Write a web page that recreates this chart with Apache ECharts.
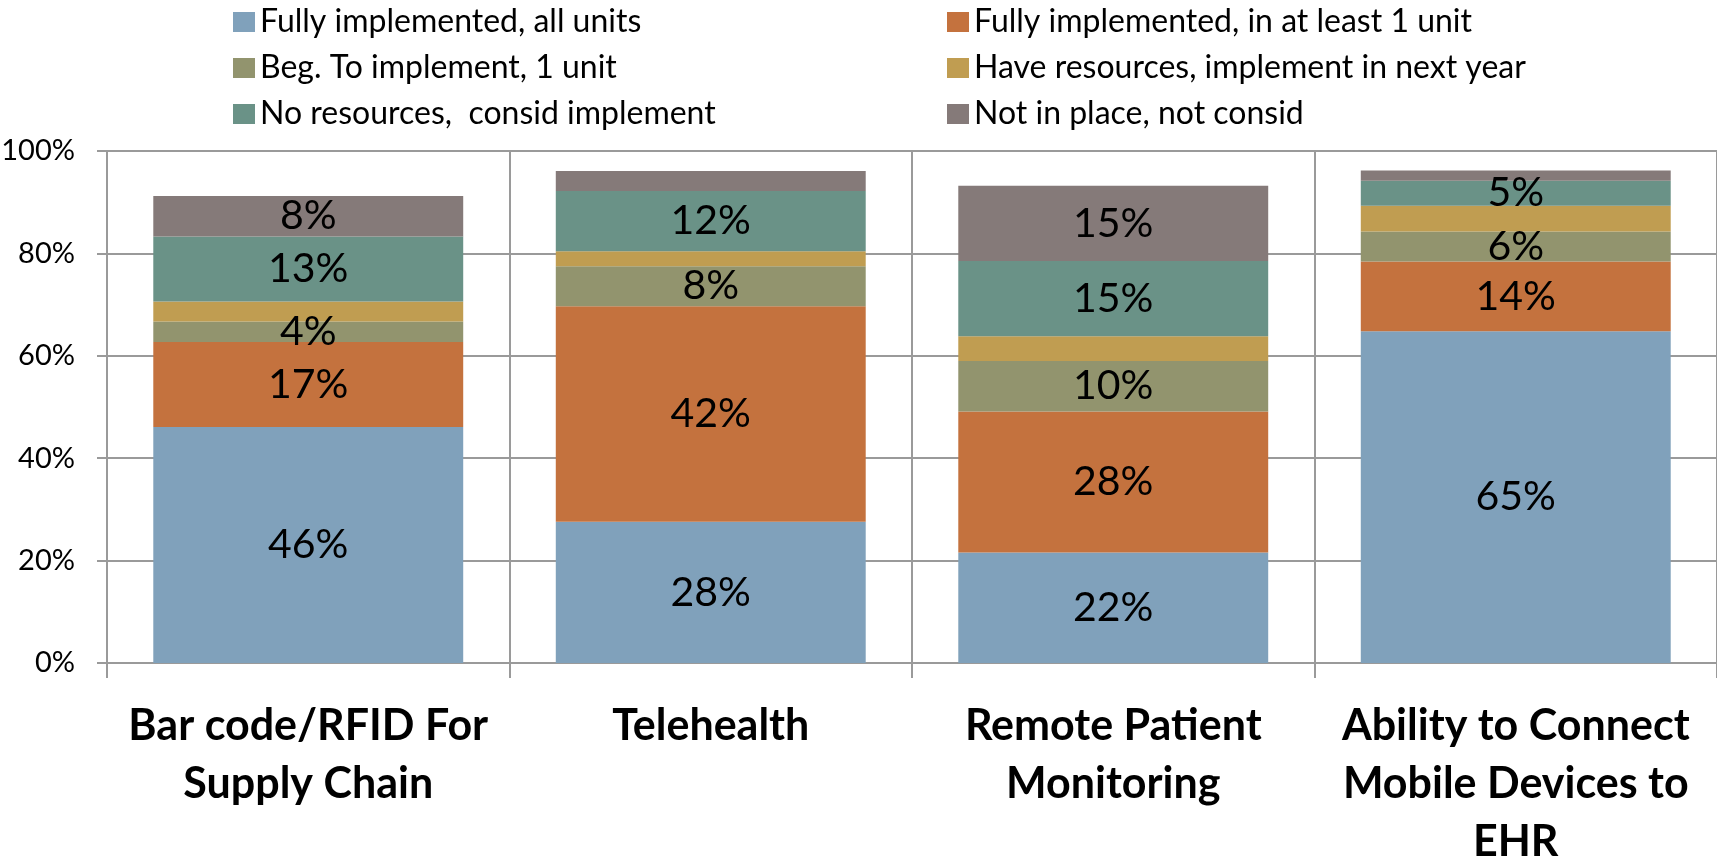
<!DOCTYPE html>
<html>
<head>
<meta charset="utf-8">
<script src="https://cdn.jsdelivr.net/npm/echarts@6/dist/echarts.min.js"></script>
<style>
  html, body { margin: 0; padding: 0; background: #fff; }
  #main { width: 1717px; height: 860px; }
</style>
</head>
<body>
<div id="main"></div>
<script>
// categories (line breaks as in the original axis)
const categories = [
  'Bar code/RFID For\nSupply Chain',
  'Telehealth',
  'Remote Patient\nMonitoring',
  'Ability to Connect\nMobile Devices to\nEHR'
]
const seriesNames = [
  'Fully implemented, all units',
  'Fully implemented, in at least 1 unit',
  'Beg. To implement, 1 unit',
  'Have resources, implement in next year',
  'No resources,  consid implement',
  'Not in place, not consid'
]
// values in percent
const fullyAll = [46.1, 27.6, 21.6, 64.8]
const fullyOne = [16.6, 42.1, 27.5, 13.6]
const begOne = [4.0, 7.8, 9.9, 5.9]
const haveRes = [3.9, 2.9, 4.8, 5.0]
const noRes = [12.7, 11.8, 14.7, 4.9]
const notInPlace = [7.9, 3.9, 14.7, 2.0]
const yTicks = [0, 20, 40, 60, 80, 100]

const colors = ['#80A1BB', '#C4723E', '#92946E', '#C09D51', '#6A9287', '#857A79']
const seriesData = [fullyAll, fullyOne, begOne, haveRes, noRes, notInPlace]

const chart = echarts.init(document.getElementById('main'))

// which series get value labels (gold never, grey only for the bigger blocks)
const labelRule = [
  () => true, () => true, () => true, () => false, () => true, v => v >= 5
]

const series = seriesNames.map((name, i) => ({
  name,
  type: 'bar',
  stack: 'total',
  barWidth: '77%',
  itemStyle: { color: colors[i] },
  label: {
    show: i !== 3,
    position: 'inside',
    fontFamily: 'Lato',
    fontSize: 41,
    color: '#000',
    formatter: p => (labelRule[i](p.value) ? Math.round(p.value) + '%' : '')
  },
  data: seriesData[i]
}))

const legendText = { fontFamily: 'Lato', fontSize: 32, color: '#000', lineHeight: 32 }

const option = {
  animation: false,
  legend: [
    {
      orient: 'vertical', left: 228, top: 1,
      icon: 'rect', itemWidth: 22, itemHeight: 20, itemGap: 14,
      textStyle: legendText,
      data: [seriesNames[0], seriesNames[2], seriesNames[4]]
    },
    {
      orient: 'vertical', left: 942, top: 1,
      icon: 'rect', itemWidth: 22, itemHeight: 20, itemGap: 14,
      textStyle: legendText,
      data: [seriesNames[1], seriesNames[3], seriesNames[5]]
    }
  ],
  grid: { left: 107, right: 0, top: 151, bottom: 197, containLabel: false, outerBoundsMode: 'none' },
  xAxis: {
    type: 'category',
    data: categories,
    axisLine: { lineStyle: { color: '#9a9a9a', width: 2 } },
    axisTick: { show: true, length: 15, lineStyle: { color: '#9a9a9a', width: 2 } },
    splitLine: { show: true, lineStyle: { color: '#9a9a9a', width: 2 } },
    axisLabel: {
      margin: 34,
      interval: 0,
      fontFamily: 'Lato',
      fontWeight: 'bold',
      fontSize: 43,
      lineHeight: 58,
      color: '#000'
    }
  },
  yAxis: {
    type: 'value',
    min: yTicks[0],
    max: yTicks[yTicks.length - 1],
    interval: yTicks[1] - yTicks[0],
    axisLine: { show: true, lineStyle: { color: '#9a9a9a', width: 2 } },
    axisTick: { show: true, length: 10, lineStyle: { color: '#9a9a9a', width: 2 } },
    splitLine: { show: true, lineStyle: { color: '#9a9a9a', width: 2 } },
    axisLabel: {
      margin: 32,
      fontFamily: 'Lato',
      fontSize: 29,
      color: '#000',
      formatter: '{value}%'
    }
  },
  series
}

chart.setOption(option)
</script>
</body>
</html>
